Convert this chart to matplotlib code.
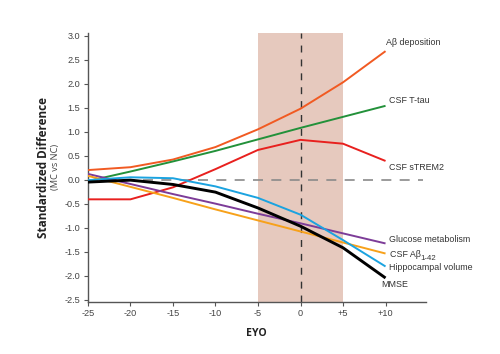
import matplotlib
matplotlib.use("Agg")
import matplotlib.pyplot as plt

# years from estimated onset
eyo = [-25, -20, -15, -10, -5, 0, 5, 10]

abeta_dep = [0.20, 0.26, 0.42, 0.68, 1.05, 1.48, 2.03, 2.68]
csf_ttau = [-0.03, 0.17, 0.38, 0.60, 0.84, 1.08, 1.31, 1.54]
csf_strem2 = [-0.41, -0.41, -0.16, 0.22, 0.62, 0.83, 0.75, 0.39]
glucose = [0.12, -0.09, -0.30, -0.50, -0.71, -0.91, -1.12, -1.33]
csf_ab42 = [0.08, -0.15, -0.38, -0.62, -0.85, -1.08, -1.31, -1.54]
hippo = [-0.01, 0.05, 0.03, -0.14, -0.38, -0.73, -1.26, -1.81]
mmse = [-0.05, -0.01, -0.10, -0.26, -0.59, -0.97, -1.42, -2.05]

x_ticks = [-25, -20, -15, -10, -5, 0, 5, 10]
x_ticklabels = ["-25", "-20", "-15", "-10", "-5", "0", "+5", "+10"]
y_ticks = [-2.5, -2.0, -1.5, -1.0, -0.5, 0.0, 0.5, 1.0, 1.5, 2.0, 2.5, 3.0]

series = [
    (abeta_dep, "#f15a22", 1.4),
    (csf_ttau, "#23913a", 1.4),
    (csf_strem2, "#e8201e", 1.4),
    (glucose, "#7d3c98", 1.4),
    (csf_ab42, "#f7a11a", 1.4),
    (hippo, "#1ba3e0", 1.4),
    (mmse, "#000000", 2.1),
]

fig = plt.figure(figsize=(5, 3.54), dpi=100)
ax = fig.add_axes([0.175, 0.147, 0.676, 0.76])

ax.axvspan(-5, 5, color="#e6c9be", lw=0, zorder=0)
ax.axvline(0, color="#333333", lw=1.0, dashes=(5, 5), zorder=1)
ax.plot([-25, 14.4], [0, 0], color="#8a8a8a", lw=1.2, dashes=(6, 5), zorder=1)

for vals, col, lw in series:
    ax.plot(eyo, vals, color=col, lw=lw, zorder=3, solid_capstyle="butt")

lab_font = dict(family="Liberation Sans", fontsize=6.4, color="#333333", va="center", ha="left")
ax.text(10.0, 2.86, "A\u03b2 deposition", **lab_font)
ax.text(10.4, 1.65, "CSF T-tau", **lab_font)
ax.text(10.4, 0.26, "CSF sTREM2", **lab_font)
ax.text(10.4, -1.25, "Glucose metabolism", **lab_font)
t = ax.text(10.5, -1.56, "CSF A\u03b2", **lab_font)
ax.annotate("1-42", xy=(1, 0.05), xycoords=t, ha="left", va="center",
            family="Liberation Sans", fontsize=5.6, color="#333333")
ax.text(10.4, -1.83, "Hippocampal volume", **lab_font)
ax.text(9.5, -2.19, "MMSE", **lab_font)

ax.set_xlim(-25.05, 14.7)
ax.set_ylim(-2.55, 3.06)
ax.set_xticks(x_ticks)
ax.set_xticklabels(x_ticklabels)
ax.set_yticks(y_ticks)
ax.set_yticklabels([f"{v:.1f}" for v in y_ticks])

for s in ["top", "right"]:
    ax.spines[s].set_visible(False)
for s in ["left", "bottom"]:
    ax.spines[s].set_color("#555555")
    ax.spines[s].set_linewidth(1.0)
ax.tick_params(length=3, width=0.8, color="#555555", labelsize=6.6,
               labelcolor="#444444", pad=2)
for lbl in ax.get_xticklabels() + ax.get_yticklabels():
    lbl.set_family("Liberation Sans")

ax.set_xlabel("EYO", family="Open Sans", fontweight="bold", fontsize=7.6,
              color="#222222", labelpad=7)
fig.text(0.088, 0.528, "Standardized Difference", rotation=90, ha="center", va="center",
         family="Open Sans", fontweight="bold", fontsize=8.5, color="#222222")
fig.text(0.111, 0.528, "(MC vs NC)", rotation=90, ha="center", va="center",
         family="Open Sans", fontsize=6.7, color="#444444")

fig.savefig("out.png", dpi=100)
